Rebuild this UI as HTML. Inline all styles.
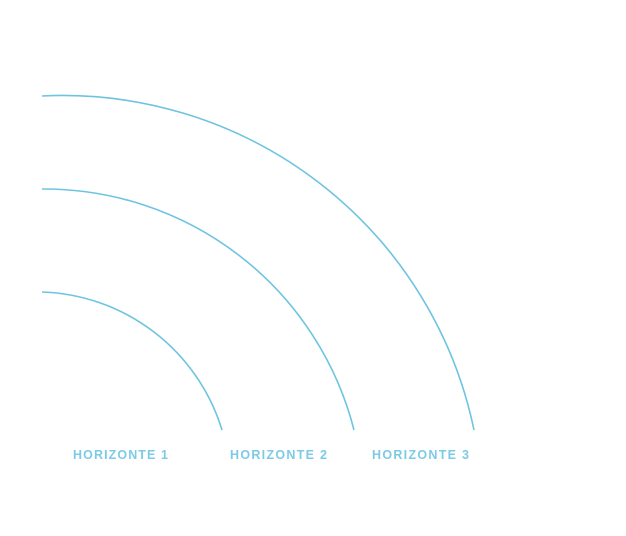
<!DOCTYPE html>
<html><head><style>html,body{margin:0;padding:0;background:#fff}</style></head>
<body>
<svg width="626" height="531" viewBox="0 0 626 531" xmlns="http://www.w3.org/2000/svg">
<g fill="none" stroke="#6ec4e0" stroke-width="1.6">
<path d="M42,96 A420 420 0 0 1 474 430"/>
<path d="M42,189 A320 320 0 0 1 354 430"/>
<path d="M42,292 A195 195 0 0 1 222 430"/>
</g>
<g font-family="Liberation Sans, sans-serif" font-weight="bold" font-size="12.5" fill="#7ccbe6">
<text x="73" y="459" textLength="95" lengthAdjust="spacing">HORIZONTE 1</text>
<text x="230" y="459" textLength="97" lengthAdjust="spacing">HORIZONTE 2</text>
<text x="372" y="459" textLength="97" lengthAdjust="spacing">HORIZONTE 3</text>
</g>
</svg>
</body></html>
